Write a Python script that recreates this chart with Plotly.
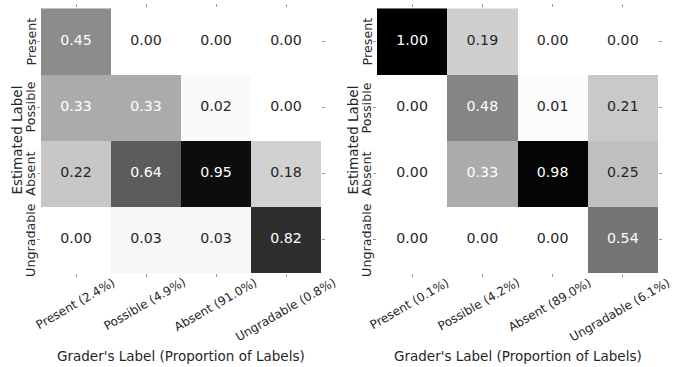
import plotly.graph_objects as go

# Confusion matrices: rows = estimated label, columns = grader's label
est_labels = ["Present", "Possible", "Absent", "Ungradable"]
grader_labels_a = ["Present (2.4%)", "Possible (4.9%)", "Absent (91.0%)", "Ungradable (0.8%)"]
grader_labels_b = ["Present (0.1%)", "Possible (4.2%)", "Absent (89.0%)", "Ungradable (6.1%)"]

matrix_a = [
    [0.45, 0.00, 0.00, 0.00],
    [0.33, 0.33, 0.02, 0.00],
    [0.22, 0.64, 0.95, 0.18],
    [0.00, 0.03, 0.03, 0.82],
]
matrix_b = [
    [1.00, 0.19, 0.00, 0.00],
    [0.00, 0.48, 0.01, 0.21],
    [0.00, 0.33, 0.98, 0.25],
    [0.00, 0.00, 0.00, 0.54],
]

x_title = "Grader's Label (Proportion of Labels)"
y_title = "Estimated Label"

W, H = 673, 367
FONT = "DejaVu Sans"
DARK = "#262626"
TICK_COLOR = "#9a9a9a"


def px_x(p):
    return p / W


def px_y(p):
    return 1 - p / H


def text_color(v):
    # grey level of the cell, then relative luminance to pick light/dark text
    g = (1 - v)
    lin = g / 12.92 if g <= 0.03928 else ((g + 0.055) / 1.055) ** 2.4
    return "white" if lin < 0.408 else DARK


panels = [
    dict(m=matrix_a, xl=grader_labels_a, xd=[41, 321], xa="x", ya="y", shift=-1),
    dict(m=matrix_b, xl=grader_labels_b, xd=[377, 658], xa="x2", ya="y2", shift=-3),
]
y_dom = [px_y(273), px_y(8.3)]

fig = go.Figure()
annotations = []
layout_axes = {}

for i, p in enumerate(panels):
    n = len(est_labels)
    cols = list(range(n))
    fig.add_trace(go.Heatmap(
        z=p["m"], x=cols, y=cols,
        colorscale=[[0, "#ffffff"], [1, "#000000"]],
        zmin=0, zmax=1, showscale=False, hoverinfo="skip",
        xaxis=p["xa"], yaxis=p["ya"],
    ))
    xs, ys, txt, clr = [], [], [], []
    for r, row in enumerate(p["m"]):
        for c, v in enumerate(row):
            xs.append(c)
            ys.append(r)
            txt.append(f"{v:.2f}")
            clr.append(text_color(v))
    fig.add_trace(go.Scatter(
        x=xs, y=ys, text=txt, mode="text",
        textfont=dict(family=FONT, size=14.2, color=clr),
        hoverinfo="skip", showlegend=False,
        xaxis=p["xa"], yaxis=p["ya"],
    ))

    suffix = "" if i == 0 else "2"
    common = dict(
        showgrid=False, zeroline=False, showline=False,
        ticks="outside", ticklen=3, tickwidth=1, tickcolor=TICK_COLOR,
        mirror="ticks", showticklabels=False,
        tickmode="array", tickvals=cols,
    )
    layout_axes["xaxis" + suffix] = dict(
        domain=[px_x(p["xd"][0]), px_x(p["xd"][1])],
        range=[-0.5, n - 0.5], anchor="y" + suffix, **common,
    )
    layout_axes["yaxis" + suffix] = dict(
        domain=y_dom, range=[n - 0.5, -0.5], anchor="x" + suffix, **common,
    )

    left = p["xd"][0]
    # row labels (vertical)
    for r, lab in enumerate(est_labels):
        annotations.append(dict(
            text=lab, xref="paper", yref=p["ya"], x=px_x(left - 10), y=r,
            xanchor="center", yanchor="middle", textangle=-90, showarrow=False,
            borderpad=0, font=dict(family=FONT, size=12.7, color=DARK),
        ))
    # column labels (rotated)
    for c, lab in enumerate(p["xl"]):
        annotations.append(dict(
            text=lab, xref=p["xa"], yref="paper", x=c, y=px_y(274),
            xanchor="center", yanchor="top", textangle=-30, showarrow=False,
            xshift=p["shift"], borderpad=0,
            font=dict(family=FONT, size=12.0, color=DARK),
        ))
    # axis titles
    annotations.append(dict(
        text=y_title, xref="paper", yref="paper", x=px_x(left - 24), y=px_y(140.5),
        xanchor="center", yanchor="middle", textangle=-90, showarrow=False,
        borderpad=0, font=dict(family=FONT, size=13.5, color=DARK),
    ))
    annotations.append(dict(
        text=x_title, xref="paper", yref="paper",
        x=px_x((p["xd"][0] + p["xd"][1]) / 2), y=px_y(356),
        xanchor="center", yanchor="middle", showarrow=False,
        borderpad=0, font=dict(family=FONT, size=13.5, color=DARK),
    ))

fig.update_layout(
    width=W, height=H,
    margin=dict(l=0, r=0, t=0, b=0),
    paper_bgcolor="white", plot_bgcolor="white",
    showlegend=False,
    annotations=annotations,
    **layout_axes,
)

fig.write_html("out.html", config={"displayModeBar": False})
